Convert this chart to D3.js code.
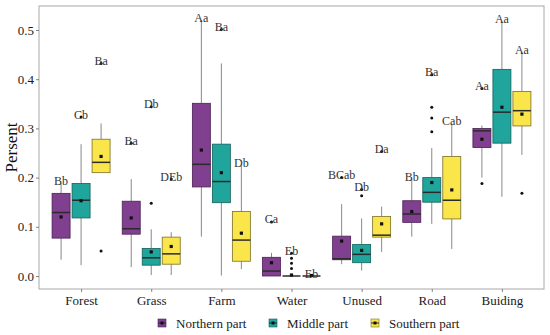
<!DOCTYPE html>
<html>
<head>
<meta charset="utf-8">
<script src="https://cdn.jsdelivr.net/npm/d3@7"></script>
<style>
body { margin: 0; background: #fff; }
svg text { font-family: "Liberation Serif", "Times New Roman", Times, serif; }
</style>
</head>
<body>
<div id="chart"></div>
<script>

let svgWidth = 550;
let svgHeight = 335;

let panel = { left: 39, right: 544, top: 6, bottom: 289 };

let categories = ["Forest", "Grass", "Farm", "Water", "Unused", "Road", "Buiding"];
let regions = ["Northern part", "Middle part", "Southern part"];
let fills = ["#80408f", "#20a59c", "#fae64a"];
let strokes = ["#4a2053", "#145f5a", "#7a6f25"];
let yTicks = [0.0, 0.1, 0.2, 0.3, 0.4, 0.5];

// [lower whisker, q1, median, q3, upper whisker, mean]
let northern = [
    [0.033, 0.077, 0.129, 0.168, 0.188, 0.120],
    [0.018, 0.085, 0.096, 0.152, 0.197, 0.118],
    [0.080, 0.181, 0.227, 0.351, 0.520, 0.256],
    [0.000, 0.000, 0.010, 0.038, 0.047, 0.027],
    [0.024, 0.033, 0.035, 0.081, 0.146, 0.071],
    [0.080, 0.109, 0.126, 0.153, 0.197, 0.131],
    [0.200, 0.261, 0.295, 0.300, 0.306, 0.278]
];
let middle = [
    [0.022, 0.118, 0.154, 0.188, 0.268, 0.153],
    [0.002, 0.022, 0.037, 0.056, 0.095, 0.049],
    [0.001, 0.149, 0.192, 0.268, 0.432, 0.210],
    [0.000, 0.000, 0.000, 0.000, 0.000, 0.002],
    [0.011, 0.027, 0.044, 0.064, 0.117, 0.052],
    [0.106, 0.150, 0.170, 0.200, 0.260, 0.190],
    [0.161, 0.270, 0.333, 0.420, 0.517, 0.343]
];
let southern = [
    [0.210, 0.210, 0.231, 0.278, 0.310, 0.243],
    [0.002, 0.024, 0.045, 0.079, 0.089, 0.060],
    [0.014, 0.030, 0.073, 0.131, 0.224, 0.087],
    [0.000, 0.000, 0.000, 0.000, 0.000, 0.001],
    [0.049, 0.079, 0.083, 0.121, 0.141, 0.106],
    [0.055, 0.116, 0.154, 0.243, 0.310, 0.175],
    [0.246, 0.305, 0.336, 0.375, 0.455, 0.329]
];

let northernOutliers = [[], [0.270], [], [0.110], [0.200], [], [0.188, 0.381]];
let middleOutliers = [[0.323], [0.148, 0.344], [0.501], [0.015, 0.026, 0.036, 0.046], [0.163, 0.176], [0.293, 0.321, 0.343, 0.409], []];
let southernOutliers = [[0.051, 0.432], [0.197], [], [], [0.253], [], [0.168]];

let northernLabels = ["Bb", "Ba", "Aa", "Ca", "BCab", "Bb", "Aa"];
let middleLabels = ["Cb", "Db", "Ba", "Eb", "Db", "Ba", "Aa"];
let southernLabels = ["Ba", "DEb", "Db", "Eb", "Da", "Cab", "Aa"];

let stats = [northern, middle, southern];
let outliers = [northernOutliers, middleOutliers, southernOutliers];
let labels = [northernLabels, middleLabels, southernLabels];

let serif = "'Liberation Serif', 'Times New Roman', Times, serif";

let svg = d3.select("#chart")
    .append("svg")
    .attr("width", svgWidth)
    .attr("height", svgHeight)
    .attr("font-family", serif);

let xScale = d3.scalePoint()
    .domain(categories)
    .range([panel.left, panel.right])
    .padding(0.6);

let dodge = d3.scaleBand()
    .domain(regions)
    .range([-30, 30]);

let boxWidth = 18;

let yScale = d3.scaleLinear()
    .domain([0, 0.5])
    .range([276, 30]);

// panel border
svg.append("rect")
    .attr("x", panel.left)
    .attr("y", panel.top)
    .attr("width", panel.right - panel.left)
    .attr("height", panel.bottom - panel.top)
    .attr("fill", "none")
    .attr("stroke", "#a8a8a8")
    .attr("stroke-width", 1);

// axes
let leftAxis = d3.axisLeft(yScale)
    .tickValues(yTicks)
    .tickFormat(d3.format(".1f"))
    .tickSize(3)
    .tickPadding(2);

let bottomAxis = d3.axisBottom(xScale)
    .tickSize(3)
    .tickPadding(4);

let yAxis = svg.append("g")
    .attr("transform", `translate(${panel.left}, 0)`)
    .call(leftAxis);

let xAxis = svg.append("g")
    .attr("transform", `translate(0, ${panel.bottom})`)
    .call(bottomAxis);

[yAxis, xAxis].forEach(ax => {
    ax.attr("font-family", serif).attr("font-size", 13);
    ax.select(".domain").remove();
    ax.selectAll(".tick line").attr("stroke", "#666").attr("stroke-width", 0.8);
    ax.selectAll(".tick text")
        .attr("fill", "#1a1a1a")
        .attr("font-size", "13px");
});

svg.append("text")
    .attr("transform", `translate(17, ${(panel.top + panel.bottom) / 2}) rotate(-90)`)
    .attr("text-anchor", "middle")
    .attr("font-size", "17px")
    .attr("fill", "#111")
    .text("Persent");

// boxes
regions.forEach(function(region, r) {
    let g = svg.append("g").attr("class", "region");
    let fill = fills[r];
    let stroke = strokes[r];

    categories.forEach(function(cat, i) {
        let s = stats[r][i];
        let cx = xScale(cat) + dodge(region) + dodge.bandwidth() / 2;

        // whiskers
        g.append("line")
            .attr("x1", cx).attr("x2", cx)
            .attr("y1", yScale(s[4])).attr("y2", yScale(s[3]))
            .attr("stroke", "#7a7a7a").attr("stroke-width", 0.9);
        g.append("line")
            .attr("x1", cx).attr("x2", cx)
            .attr("y1", yScale(s[1])).attr("y2", yScale(s[0]))
            .attr("stroke", "#7a7a7a").attr("stroke-width", 0.9);

        // box
        g.append("rect")
            .attr("x", cx - boxWidth / 2)
            .attr("y", yScale(s[3]))
            .attr("width", boxWidth)
            .attr("height", Math.max(0, yScale(s[1]) - yScale(s[3])))
            .attr("fill", fill)
            .attr("stroke", stroke)
            .attr("stroke-width", 0.8);

        // median
        g.append("line")
            .attr("x1", cx - boxWidth / 2).attr("x2", cx + boxWidth / 2)
            .attr("y1", yScale(s[2])).attr("y2", yScale(s[2]))
            .attr("stroke", "#2b2b2b").attr("stroke-width", 1.5);

        // outliers
        outliers[r][i].forEach(function(v) {
            g.append("circle")
                .attr("cx", cx)
                .attr("cy", yScale(v))
                .attr("r", 1.5)
                .attr("fill", "#111");
        });

        // mean
        g.append("rect")
            .attr("x", cx - 1.6)
            .attr("y", yScale(s[5]) - 1.6)
            .attr("width", 3.2)
            .attr("height", 3.2)
            .attr("fill", "#111");

        // significance letters
        let top = d3.max([s[4]].concat(outliers[r][i]));
        g.append("text")
            .attr("x", cx)
            .attr("y", yScale(top) + 1.5)
            .attr("text-anchor", "middle")
            .attr("font-size", "12px")
            .attr("fill", "#333")
            .text(labels[r][i]);
    });
});

// legend
let legendX = [162, 273, 375];
let legend = svg.append("g");
regions.forEach(function(region, r) {
    let lg = legend.append("g")
        .attr("transform", `translate(${legendX[r]}, 323)`);
    lg.append("rect")
        .attr("x", -4).attr("y", -4)
        .attr("width", 8).attr("height", 8)
        .attr("fill", fills[r])
        .attr("stroke", strokes[r])
        .attr("stroke-width", 0.6);
    lg.append("line")
        .attr("x1", -4).attr("x2", 4)
        .attr("y1", 0).attr("y2", 0)
        .attr("stroke", "#2b2b2b").attr("stroke-width", 1);
    lg.append("rect")
        .attr("x", -1.5).attr("y", -1.5)
        .attr("width", 3).attr("height", 3)
        .attr("fill", "#111");
    lg.append("text")
        .attr("x", 14)
        .attr("y", 4.5)
        .attr("font-size", "13px")
        .attr("fill", "#1a1a1a")
        .text(region);
});

</script>
</body>
</html>
